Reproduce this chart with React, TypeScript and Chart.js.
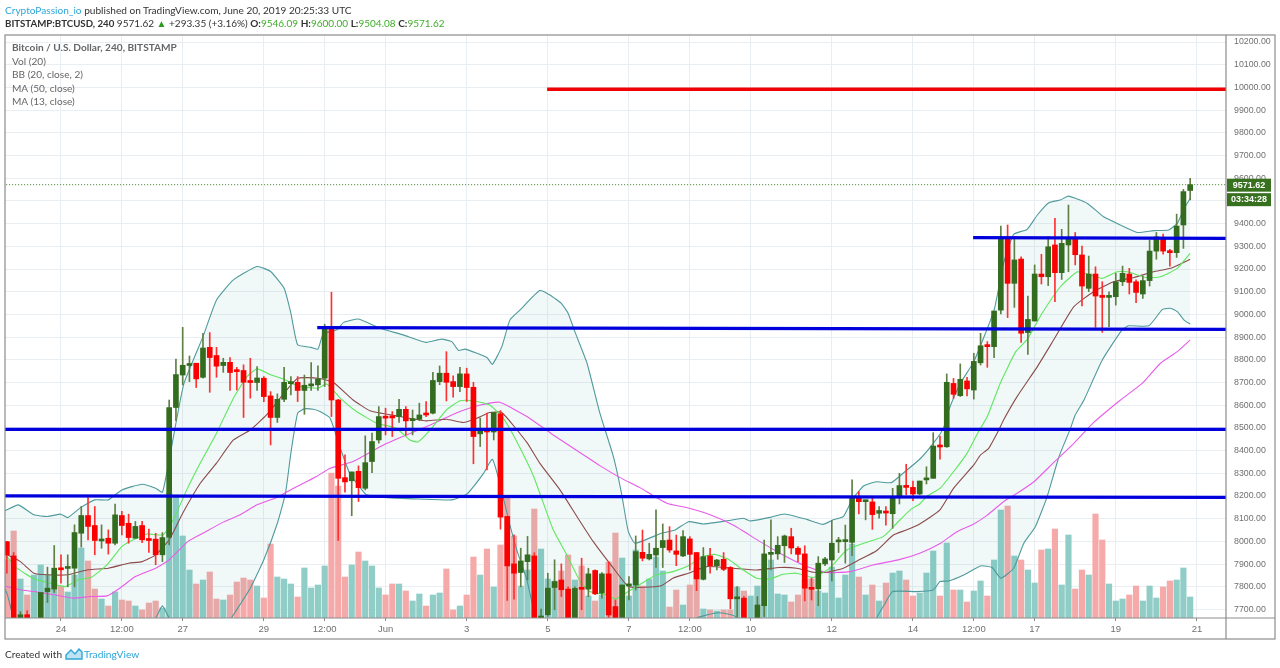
import React, { useEffect, useRef } from "react";
import { Chart, registerables } from "chart.js";

Chart.register(...registerables);

const candleOpen = [
  7999,7936,7650,7677,7640,7640,7779,7790,7882,7881,
  7882,8036,8114,8070,8002,8014,7992,8114,8080,8014,
  8070,8010,8010,7941,8019,8590,8733,8775,8785,8723,
  8855,8819,8775,8789,8754,8753,8706,8700,8719,8641,
  8546,8626,8695,8701,8665,8685,8690,8719,8942,8623,
  8281,8267,8309,8234,8352,8447,8550,8553,8550,8582,
  8532,8538,8565,8565,8704,8741,8704,8682,8738,8679,
  8474,8493,8482,8562,8110,7901,7863,7911,7936,7655,
  7677,7797,7830,7790,7645,7794,7790,7872,7772,7857,
  7713,7664,7804,7808,7952,7923,7940,7973,8006,7958,
  7936,8011,7951,7833,7936,7893,7921,7885,7747,7750,
  7640,7660,7717,7943,7945,7981,8021,7970,7945,7794,
  7791,7901,7918,7998,7999,7996,8194,8175,8174,8124,
  8130,8122,8197,8244,8238,8209,8271,8278,8420,8417,
  8696,8642,8707,8667,8787,8867,8858,9019,9338,9137,
  9244,8920,8971,9178,9166,9306,9184,9306,9335,9262,
  9115,9178,9081,9075,9078,9144,9178,9144,9090,9149,
  9279,9339,9276,9272,9394,9546.09,
];
const candleHigh = [
  8000,7951,7691,7695,7660,7775,7887,7982,7941,7941,
  8073,8154,8193,8154,8073,8051,8164,8132,8120,8088,
  8088,8054,8036,8039,8623,8803,8943,8817,8785,8917,
  8920,8855,8807,8810,8767,8778,8807,8770,8726,8660,
  8650,8767,8726,8726,8733,8788,8773,8957,9098,8626,
  8381,8306,8333,8465,8477,8594,8587,8572,8626,8594,
  8579,8609,8616,8745,8773,8836,8729,8767,8763,8701,
  8543,8565,8568,8576,8110,8029,7970,8022,7950,7702,
  7860,7919,7901,7800,7800,7926,7882,7875,7863,7911,
  7742,7808,7845,8024,8050,7992,8139,8077,8065,8028,
  8048,8021,7951,7973,7970,7921,7951,7889,7801,7757,
  7655,7757,8006,8095,8021,8028,8058,7977,7981,7838,
  7933,7930,8092,8018,8072,8271,8219,8181,8197,8153,
  8153,8234,8300,8340,8266,8266,8329,8479,8464,8738,
  8718,8782,8723,8829,8917,8880,9015,9389,9394,9342,
  9254,9081,9218,9265,9342,9423,9375,9482,9361,9301,
  9257,9210,9144,9100,9181,9213,9203,9152,9169,9328,
  9361,9354,9287,9442,9551,9600,
];
const candleLow = [
  7860,7600,7620,7620,7600,7600,7731,7775,7816,7800,
  7800,7975,8007,7941,7970,7944,7985,8029,7992,8014,
  7995,7951,7897,7911,7985,8532,8690,8704,8678,8719,
  8657,8723,8745,8665,8667,8546,8631,8665,8616,8425,
  8524,8616,8645,8616,8560,8665,8665,8682,8550,8004,
  8217,8113,8176,8227,8303,8433,8469,8462,8524,8469,
  8469,8532,8550,8562,8690,8619,8635,8660,8616,8342,
  8418,8315,8447,8054,7740,7746,7800,7830,7640,7620,
  7670,7699,7757,7600,7600,7699,7757,7765,7750,7640,
  7620,7640,7742,7786,7914,7918,7885,7885,7952,7893,
  7933,7874,7783,7830,7860,7874,7871,7703,7669,7640,
  7620,7640,7669,7874,7921,7907,7945,7911,7738,7742,
  7717,7893,7826,7951,7904,7937,8121,8095,8053,8102,
  8072,8058,8165,8205,8180,8205,8253,8278,8362,8414,
  8630,8638,8641,8627,8777,8767,8810,9002,8986,9031,
  8877,8824,8971,9134,9127,9056,9154,9188,9218,9037,
  9100,8943,8921,8946,9041,9127,9090,9052,9071,9125,
  9243,9265,9213,9251,9291,9504.08,
];
const candleClose = [
  7941,7640,7677,7650,7650,7775,7794,7882,7875,7888,
  8039,8114,8066,8004,8007,7992,8117,8070,8017,8066,
  8007,8004,7941,8017,8590,8735,8776,8780,8716,8852,
  8810,8772,8789,8744,8748,8701,8700,8720,8638,8546,
  8626,8701,8703,8665,8688,8694,8716,8942,8623,8278,
  8262,8306,8237,8347,8440,8550,8543,8544,8582,8531,
  8538,8557,8557,8709,8741,8701,8682,8738,8678,8462,
  8496,8482,8568,8107,7892,7860,7914,7941,7650,7660,
  7794,7823,7787,7640,7793,7789,7857,7769,7857,7676,
  7650,7808,7808,7955,7926,7943,7970,8004,7962,7943,
  8021,7943,7835,7933,7893,7918,7877,7747,7752,7664,
  7655,7720,7945,7951,7983,8024,7971,7943,7794,7789,
  7904,7923,7992,8002,8002,8194,8175,8181,8118,8136,
  8125,8197,8246,8238,8209,8266,8278,8420,8416,8701,
  8648,8714,8672,8793,8862,8858,9015,9338,9137,9240,
  8917,8978,9178,9166,9298,9184,9313,9335,9263,9125,
  9178,9081,9075,9081,9144,9181,9141,9097,9149,9279,
  9342,9279,9272,9389,9541,9571.62,
];
const volume = [
  58,87,39,23,43,53,43,38,32,26,
  43,70,57,29,19,12,26,18,17,12,
  8,15,17,10,125,122,82,48,34,38,
  46,19,18,23,36,40,38,32,20,74,
  41,39,34,21,50,30,33,52,145,132,
  41,53,66,57,52,30,23,34,34,27,
  17,24,12,23,25,49,8,12,23,61,
  43,69,31,73,122,82,32,48,109,69,
  39,37,47,63,38,52,22,17,23,56,
  85,60,22,68,32,39,61,47,11,28,
  13,33,50,9,8,7,8,8,31,27,
  22,32,48,58,24,23,16,23,38,39,
  27,25,51,20,43,74,41,23,33,17,
  35,45,47,38,22,25,45,67,22,75,
  28,28,16,27,37,22,58,108,112,62,
  58,48,35,68,69,89,33,83,29,48,
  43,104,78,34,17,19,23,32,17,32,
  20,31,37,38,50,21,
];

const bbUpper = [
  [-1,8125],[0,8139],[1.7,8161],[4,8117],[6,8110],[8,8120],[9,8105],[11,8151],[13,8183],[15,8183],[17,8227],[20,8252],[22,8234],[23,8217],[24,8359],[25,8521],[26.2,8697],[29,8902],[31,9064],[33.5,9152],[37,9211],[39,9189],[41,9115],[42,9005],[43,8866],[45,8855],[46,8847],[46.8,8915],[48.8,8932],[49.8,8965],[52,8980],[55.2,8939],[58.6,8910],[62,8877],[64.3,8891],[65.8,8880],[66.8,8841],[67.8,8847],[71,8810],[71.8,8780],[73.2,8858],[74.4,8976],[75.9,9020],[78.8,9105],[80.3,9086],[82,9049],[83,9005],[84,8924],[85.8,8785],[87.7,8565],[89.7,8374],[90.9,8212],[91.9,8044],[92.9,7992],[96.8,8036],[98.8,8050],[100.8,8087],[103,8077],[106.7,8092],[108.9,8102],[109.9,8090],[112.9,8106],[115,8121],[118.3,8097],[120.7,8075],[122.2,8095],[123.7,8109],[125,8183],[126.7,8244],[128.6,8263],[130.8,8259],[132.8,8307],[135,8362],[137,8432],[138.5,8498],[139.3,8579],[141,8696],[143,8792],[146,9019],[147.4,9225],[148.9,9353],[150.9,9375],[152.4,9438],[154.1,9492],[155.8,9504],[157,9521],[159.8,9489],[162.2,9430],[164.7,9394],[167.2,9361],[169.6,9369],[171.8,9372],[173.1,9401],[174.1,9467],[175,9511],
];
const bbLower = [
  [-1,7830],[0,7772],[1,7662],[2,7620],[4,7560],[12,7500],[20,7600],[22,7662],[23,7716],[24,7662],[24.5,7640],[28,7500],[31,7550],[33.2,7662],[36,7794],[38,7919],[40,8080],[41.2,8212],[42,8389],[43,8565],[44,8584],[45.3,8582],[46.3,8572],[47.8,8543],[49.3,8411],[50.7,8300],[52.5,8227],[53.2,8205],[56.2,8193],[61,8187],[65.8,8183],[68,8208],[70.5,8300],[71.8,8362],[72.9,8256],[74.2,8095],[75.4,7963],[76.9,7831],[77.9,7699],[78.4,7662],[79,7600],[85,7450],[95,7450],[100,7600],[102,7662],[103,7672],[105.2,7686],[107.2,7676],[108,7664],[108.5,7640],[115,7500],[122,7450],[128,7600],[128.6,7662],[129.9,7728],[131,7779],[134.5,7779],[137,7786],[138,7823],[139.3,7826],[141.5,7852],[144,7892],[145.7,7885],[147,7838],[148.9,7882],[150.4,7992],[152.1,8065],[153.8,8193],[155.6,8373],[157.3,8498],[158,8557],[159.3,8623],[162,8799],[164.9,8931],[165.9,8950],[168.9,8950],[170.9,9022],[172.1,9027],[173.1,9012],[174.1,8975],[175,8958],
];
const maGreen = [
  [-1,7950],[0,7933],[1.5,7882],[4,7835],[6,7819],[8.6,7801],[10.6,7831],[12.5,7842],[14.8,7897],[17,7977],[18.7,8007],[20.7,8033],[23.1,8029],[24.6,8095],[26.6,8227],[28.6,8345],[31,8477],[33.5,8631],[35.5,8726],[37,8760],[39,8734],[41,8714],[43,8685],[46,8675],[47.3,8694],[49.3,8631],[51.7,8572],[54.7,8521],[57.6,8499],[59.6,8447],[60.8,8438],[62.6,8491],[65,8579],[67,8620],[69,8620],[71.4,8601],[73.4,8543],[75.4,8440],[77.9,8286],[80.8,8051],[82.8,7941],[84.8,7823],[86.2,7779],[88.7,7765],[90,7746],[91.9,7779],[94.1,7819],[96,7852],[98.5,7867],[100.8,7893],[103,7933],[104.7,7943],[106.7,7921],[108.9,7874],[110.9,7838],[112.9,7835],[114.8,7855],[116.8,7860],[119.3,7841],[121.7,7882],[124.2,7962],[126.7,7992],[129.6,8021],[131.6,8080],[133.6,8139],[135,8165],[136.1,8200],[138,8234],[140,8307],[142,8388],[143.7,8484],[145,8550],[146.9,8696],[149.2,8836],[150.9,8890],[153.1,9005],[155.8,9122],[158.3,9188],[159.8,9178],[162,9159],[164.2,9188],[165.7,9188],[168.6,9162],[170.6,9166],[173.1,9203],[175,9269],
];
const maBrown = [
  [-1,7950],[0,7941],[2,7911],[4,7860],[6,7853],[9,7853],[12,7875],[15,7882],[18,7904],[20,7911],[22,7941],[24,8007],[26,8124],[28.6,8256],[31,8345],[33.5,8447],[36,8491],[38.4,8557],[41,8653],[43,8719],[46,8719],[48.3,8700],[51.2,8623],[53.7,8576],[57.6,8553],[62,8531],[65,8538],[67.5,8524],[69.5,8543],[71.4,8568],[73.2,8568],[76.9,8436],[78.8,8345],[81.8,8227],[84.3,8110],[86.7,8000],[89.7,7882],[91.9,7801],[94.1,7798],[96.8,7805],[98.5,7838],[100.8,7860],[103.5,7889],[107.4,7882],[110.9,7874],[114.3,7885],[116.8,7882],[119.3,7864],[121.2,7864],[123.7,7882],[126.2,7921],[128.6,7959],[131.1,8028],[133,8050],[135,8077],[138,8139],[140,8234],[143,8337],[144,8381],[145.2,8410],[146.7,8491],[147.4,8535],[149.4,8638],[152.4,8770],[154.8,8887],[157.8,9034],[160.7,9100],[163.7,9144],[166.7,9163],[169.6,9188],[172.1,9203],[175,9243],
];
const maMagenta = [
  [-1,7805],[0,7801],[2,7787],[4,7779],[7,7765],[9.8,7750],[12.3,7757],[14.8,7760],[16.7,7794],[19,7845],[22,7882],[24,7919],[26.8,8000],[29,8036],[32,8085],[34.5,8117],[37,8161],[40,8195],[42.4,8234],[45.8,8286],[47.8,8322],[51.2,8352],[55.7,8425],[59.1,8469],[62.6,8513],[67,8572],[70,8601],[72.9,8613],[76.9,8550],[80.8,8469],[85.3,8381],[87.7,8334],[90.7,8281],[93.6,8237],[97.6,8168],[100.5,8149],[104,8117],[107.4,8072],[111.4,7999],[114.8,7940],[118.3,7889],[121.2,7863],[124.7,7867],[128.1,7896],[132.1,7921],[135,7948],[138.1,7992],[140.5,8043],[143,8077],[145,8116],[147.4,8175],[149.4,8212],[151.9,8263],[154.8,8347],[157.8,8432],[160.7,8523],[164.7,8623],[167.9,8696],[170.6,8785],[173.1,8836],[175,8887],
];

const blueLines = [
  [[-1,8494],[181,8494]],
  [[-1,8201],[181,8194]],
  [[45.9,8942],[181,8934]],
  [[142.9,9338],[181,9335]],
];
const redLine = [[79.9,9992],[181,9992]];
const lastPrice = 9571.62;
const countdown = "03:34:28";

const xTickIndex = [8,17,26,38,47,56,68,80,92,101,110,122,134,143,152,164,176];
const xTickLabels = ["24","12:00","27","29","12:00","Jun","3","5","7","12:00","10","12","14","12:00","17","19","21"];
const yTicks = [7700,7800,7900,8000,8100,8200,8300,8400,8500,8600,8700,8800,8900,9000,9100,9200,9300,9400,9500,9600,9700,9800,9900,10000,10100,10200];
const legendRows = ["Vol (20)", "BB (20, close, 2)", "MA (50, close)", "MA (13, close)"];

const FONT = "Lato, sans-serif";
const toPts = (a: number[][]) => a.map(([x, y]) => ({ x, y }));

const framePlugin = {
  id: "frame",
  afterDatasetsDraw(chart: any) {
    const { ctx, chartArea: a, scales } = chart;
    ctx.save();
    ctx.strokeStyle = "#8c8c8c";
    ctx.lineWidth = 1.2;
    ctx.strokeRect(a.left, a.top, 1275 - a.left, 639 - a.top);
    ctx.beginPath();
    ctx.moveTo(a.right, a.top);
    ctx.lineTo(a.right, 639);
    ctx.moveTo(a.left, a.bottom);
    ctx.lineTo(1275, a.bottom);
    ctx.stroke();
    const y = scales.y.getPixelForValue(lastPrice);
    ctx.fillStyle = "#37701f";
    ctx.fillRect(a.right + 1, y - 6, 44, 13);
    ctx.fillRect(a.right + 1, y + 8.5, 44, 13);
    ctx.fillStyle = "#fff";
    ctx.font = "bold 9px 'Liberation Sans', sans-serif";
    ctx.textAlign = "center";
    ctx.textBaseline = "middle";
    ctx.fillText(lastPrice.toFixed(2), a.right + 23, y + 0.5);
    ctx.fillText(countdown, a.right + 23, y + 15);
    ctx.restore();
  },
};

const txt = (left: number, top: number, style: any = {}) => ({
  position: "absolute" as const,
  left,
  top,
  whiteSpace: "nowrap" as const,
  fontFamily: FONT,
  lineHeight: "14px",
  ...style,
});

export default function App() {
  const ref = useRef<HTMLCanvasElement>(null);
  useEffect(() => {
    document.body.style.margin = "0";
    const n = candleOpen.length;
    const idx = Array.from({ length: n }, (_, i) => i);
    const isUp = idx.map((i) => candleClose[i] >= candleOpen[i]);
    const line = (data: number[][], color: string, order: number, extra: any = {}) => ({
      type: "line",
      data: toPts(data),
      borderColor: color,
      borderWidth: 1.1,
      pointRadius: 0,
      tension: 0.15,
      order,
      yAxisID: "y",
      ...extra,
    });
    const chart = new Chart(ref.current as any, {
      type: "bar",
      data: {
        datasets: [
          ...blueLines.map((l) => line(l, "#0000dc", 0, { borderWidth: 3.3, tension: 0 })),
          line(redLine, "#f00000", 0, { borderWidth: 3.3, tension: 0 }),
          line([[-1, lastPrice], [181, lastPrice]], "#3f7f2a", 1, { borderWidth: 1, borderDash: [1, 2], tension: 0 }),
          {
            type: "bar",
            data: idx.map((i) => ({ x: i, y: [candleOpen[i], candleClose[i]] })),
            backgroundColor: idx.map((i) => (isUp[i] ? "#336b1f" : "#fb0000")),
            barThickness: 5,
            minBarLength: 2,
            grouped: false,
            order: 2,
            yAxisID: "y",
          },
          {
            type: "bar",
            data: idx.map((i) => ({ x: i, y: [candleLow[i], candleHigh[i]] })),
            backgroundColor: idx.map((i) => (isUp[i] ? "#5f7f45" : "#ff3030")),
            barThickness: 1,
            grouped: false,
            order: 3,
            yAxisID: "y",
          },
          line(maGreen, "#5ee85e", 4),
          line(maBrown, "#8b4b4b", 4),
          line(maMagenta, "#e85ce8", 4),
          line(bbUpper, "#4f9a9c", 5, { fill: "+1", backgroundColor: "rgba(60,150,150,0.07)" }),
          line(bbLower, "#4f9a9c", 5),
          {
            type: "bar",
            data: idx.map((i) => ({ x: i, y: volume[i] })),
            backgroundColor: idx.map((i) => (isUp[i] ? "#8fcdc6" : "#f5a9a9")),
            barThickness: 5.5,
            grouped: false,
            order: 6,
            yAxisID: "y1",
          },
        ] as any,
      },
      plugins: [framePlugin],
      options: {
        responsive: false,
        animation: false,
        events: [],
        layout: { autoPadding: false, padding: { left: 5, top: 35, right: 5, bottom: 29 } },
        plugins: { legend: { display: false }, tooltip: { enabled: false } },
        scales: {
          x: {
            type: "linear",
            offset: false,
            min: -0.28,
            max: 180.3,
            afterFit: (s: any) => { s.height = 21; },
            afterBuildTicks: (s: any) => { s.ticks = xTickIndex.map((value) => ({ value })); },
            grid: { color: "#e9eef2", tickColor: "#8c8c8c", tickLength: 3, offset: false },
            border: { display: false },
            ticks: {
              autoSkip: false,
              maxRotation: 0,
              padding: 3,
              color: "#707070",
              font: { family: "'Liberation Sans', sans-serif", size: 9.5 },
              callback: (v: any) => xTickLabels[xTickIndex.indexOf(Number(v))],
            },
          },
          y: {
            type: "linear",
            position: "right",
            min: 7662.6,
            max: 10231,
            afterFit: (s: any) => { s.width = 49; },
            afterBuildTicks: (s: any) => { s.ticks = yTicks.map((value) => ({ value })); },
            grid: { color: "#e9eef2", drawTicks: false },
            border: { display: false },
            ticks: {
              padding: 8,
              color: "#707070",
              font: { family: "'Liberation Sans', sans-serif", size: 8.8 },
              callback: (v: any) => Number(v).toFixed(2),
            },
          },
          y1: { type: "linear", display: false, min: 0, max: 583, grid: { display: false } },
        },
      } as any,
    });
    return () => chart.destroy();
  }, []);

  const green = "#3fae2a";
  return (
    <div style={{ position: "relative", width: 1280, height: 668, overflow: "hidden", background: "#fff" }}>
      <canvas ref={ref} width={1280} height={668} style={{ position: "absolute", left: 0, top: 0, display: "block" }} />
      <div style={txt(5, 3, { fontSize: 10.1, color: "#333" })}>
        <span style={{ color: "#2ea6d8" }}>CryptoPassion_io</span> published on TradingView.com, June 20, 2019 20:25:33 UTC
      </div>
      <div style={txt(5, 16, { fontSize: 10, color: "#333" })}>
        <b style={{ fontSize: 9.7 }}>BITSTAMP:BTCUSD, 240</b> 9571.62 <span style={{ color: "#2a9a1e" }}>▲</span> +293.35 (+3.16%) <b>O:</b>
        <span style={{ color: green }}>9546.09</span> <b>H:</b>
        <span style={{ color: green }}>9600.00</span> <b>L:</b>
        <span style={{ color: green }}>9504.08</span> <b>C:</b>
        <span style={{ color: green }}>9571.62</span>
      </div>
      <div style={txt(12, 40, { fontSize: 10.1, color: "#666", fontWeight: 700 })}>Bitcoin / U.S. Dollar, 240, BITSTAMP</div>
      {legendRows.map((t, i) => (
        <div key={t} style={txt(12, 53.5 + i * 13.5, { fontSize: 10.1, color: "#666" })}>{t}</div>
      ))}
      <div style={txt(5, 647, { fontSize: 10.1, color: "#333" })}>Created with</div>
      <svg style={{ position: "absolute", left: 65, top: 648 }} width="18" height="12" viewBox="0 0 18 12">
        <path d="M1 11 L1 7 L6 2 L10 6 L14 1 L17 4 L17 11 Z" fill="#bfe3f3" stroke="#2ea6d8" strokeWidth="1.4" />
      </svg>
      <div style={txt(84, 647, { fontSize: 10.25, color: "#2ea6d8" })}>TradingView</div>
    </div>
  );
}
